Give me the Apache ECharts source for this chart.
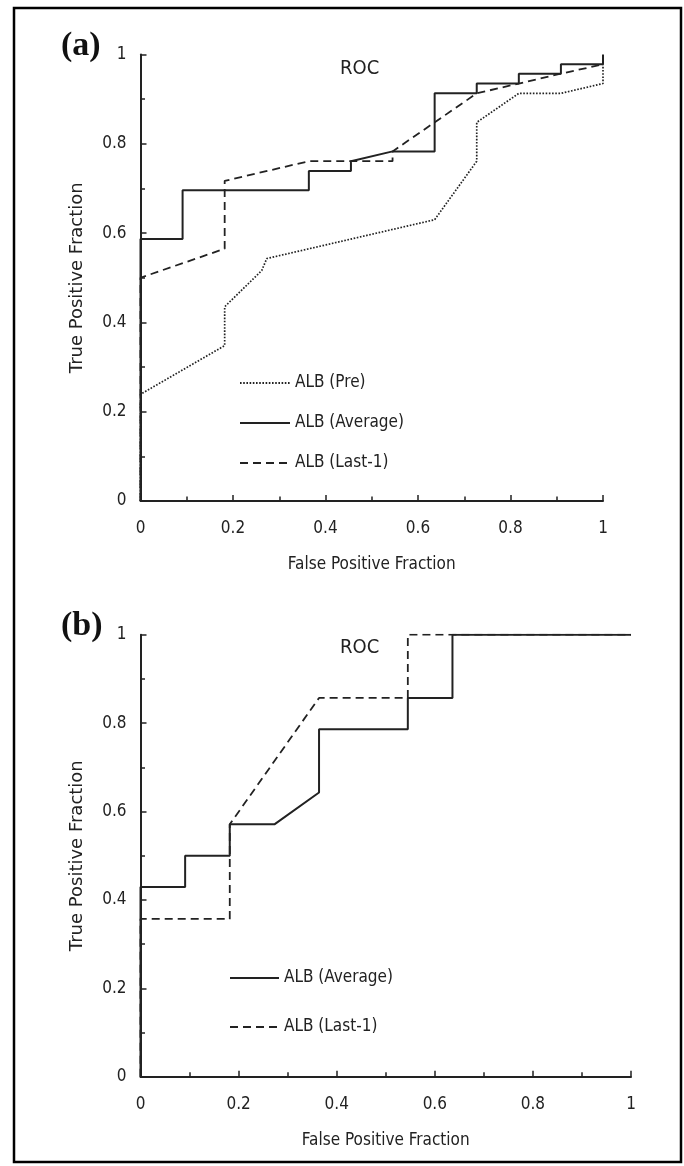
<!doctype html>
<html>
<head>
<meta charset="utf-8">
<title>ROC</title>
<script src="https://cdn.jsdelivr.net/npm/echarts@6/dist/echarts.min.js"></script>
<style>
    html, body {margin: 0;padding: 0;background: #fff;}
    #chart {width: 684px;height: 1166px;}
</style>
</head>
<body>
<div id="chart"></div>
<script>
    // (a) ALB (Pre) - dotted
    var fprA_pre = [0, 0, 0.182, 0.182, 0.262, 0.273, 0.636, 0.727, 0.727, 0.818, 0.909, 1, 1];
    var tprA_pre = [0, 0.239, 0.348, 0.435, 0.516, 0.543, 0.630, 0.761, 0.848, 0.913, 0.913, 0.935, 0.978];
    // (a) ALB (Average) - solid
    var fprA_avg = [0, 0, 0.091, 0.091, 0.364, 0.364, 0.455, 0.455, 0.545, 0.636, 0.636, 0.727, 0.727, 0.818, 0.818, 0.909, 0.909, 1, 1];
    var tprA_avg = [0, 0.587, 0.587, 0.696, 0.696, 0.739, 0.739, 0.761, 0.783, 0.783, 0.913, 0.913, 0.935, 0.935, 0.957, 0.957, 0.978, 0.978, 1];
    // (a) ALB (Last-1) - dashed
    var fprA_last = [0, 0, 0.182, 0.182, 0.364, 0.545, 0.545, 0.727, 0.818, 0.909, 1];
    var tprA_last = [0, 0.5, 0.565, 0.717, 0.761, 0.761, 0.783, 0.913, 0.935, 0.957, 0.978];

    // (b) ALB (Average) - solid
    var fprB_avg = [0, 0, 0.091, 0.091, 0.182, 0.182, 0.273, 0.364, 0.364, 0.545, 0.545, 0.636, 0.636, 1];
    var tprB_avg = [0, 0.429, 0.429, 0.5, 0.5, 0.571, 0.571, 0.643, 0.786, 0.786, 0.857, 0.857, 1, 1];
    // (b) ALB (Last-1) - dashed
    var fprB_last = [0, 0, 0.182, 0.182, 0.364, 0.545, 0.545, 1];
    var tprB_last = [0, 0.357, 0.357, 0.571, 0.857, 0.857, 1, 1];

    var axisTicks = [0, 0.2, 0.4, 0.6, 0.8, 1];

    var ink = '#222';
    var sans = "'DejaVu Sans Condensed', 'DejaVu Sans', sans-serif";

    function pairs(xs, ys) {
        var out = [];
        for (var i = 0; i < xs.length; i++) {
            out.push([xs[i], ys[i]]);
        }
        return out;
    }

    function valueAxis(idx, name, isY) {
        return {
            type: 'value',
            gridIndex: idx,
            min: axisTicks[0],
            max: axisTicks[axisTicks.length - 1],
            interval: axisTicks[1] - axisTicks[0],
            name: name,
            nameLocation: 'middle',
            nameGap: isY ? 54 : 55,
            nameTextStyle: {
                color: ink,
                fontFamily: isY ? "'DejaVu Sans', sans-serif" : sans,
                fontSize: isY ? 18 : 17
            },
            axisLine: {show: true, onZero: false, lineStyle: {color: ink, width: 2}},
            axisTick: {show: true, inside: true, length: 6, lineStyle: {color: ink, width: 1.5}},
            minorTick: {show: true, splitNumber: 2, length: 4.5, lineStyle: {color: ink, width: 1.5}},
            splitLine: {show: false},
            axisLabel: {
                color: ink,
                fontFamily: sans,
                fontSize: 17,
                margin: isY ? 14 : 19
            }
        };
    }

    function line(name, idx, xs, ys, type, width) {
        return {
            name: name,
            type: 'line',
            xAxisIndex: idx,
            yAxisIndex: idx,
            symbol: 'none',
            data: pairs(xs, ys),
            lineStyle: {color: ink, width: width, type: type},
            itemStyle: {color: ink},
            z: 3
        };
    }

    var myChart = echarts.init(document.getElementById('chart'), null, {renderer: 'canvas'});

    var option = {
        animation: false,
        backgroundColor: '#fff',
        title: [
            {text: '(a)', left: 61, top: 29, padding: 0,
                textStyle: {fontFamily: "'Liberation Serif', serif", fontWeight: 'bold', fontSize: 34, color: '#111'}},
            {text: 'ROC', left: 340, top: 59, padding: 0,
                textStyle: {fontFamily: sans, fontWeight: 'normal', fontSize: 20, color: ink}},
            {text: '(b)', left: 61, top: 609, padding: 0,
                textStyle: {fontFamily: "'Liberation Serif', serif", fontWeight: 'bold', fontSize: 34, color: '#111'}},
            {text: 'ROC', left: 340, top: 638, padding: 0,
                textStyle: {fontFamily: sans, fontWeight: 'normal', fontSize: 20, color: ink}}
        ],
        graphic: [{
            type: 'rect',
            shape: {x: 14, y: 8, width: 667, height: 1154},
            style: {fill: 'none', stroke: '#000', lineWidth: 2.5},
            silent: true
        }],
        legend: [
            {
                orient: 'vertical', left: 239, top: 374.5, padding: 0,
                itemWidth: 50, itemHeight: 14, itemGap: 23,
                itemStyle: {opacity: 0},
                data: ['ALB (Pre)', 'ALB (Average)', 'ALB (Last-1)'],
                textStyle: {color: ink, fontFamily: sans, fontSize: 17}
            },
            {
                orient: 'vertical', left: 229, top: 969.5, padding: 0,
                itemWidth: 49, itemHeight: 14, itemGap: 32,
                itemStyle: {opacity: 0},
                data: ['ALB (Average)', 'ALB (Last-1)'],
                textStyle: {color: ink, fontFamily: sans, fontSize: 17}
            }
        ],
        grid: [
            {left: 140.5, top: 54.5, width: 462.5, height: 446.5},
            {left: 140.5, top: 634.7, width: 490.5, height: 442}
        ],
        xAxis: [
            valueAxis(0, 'False Positive Fraction', false),
            valueAxis(1, 'False Positive Fraction', false)
        ],
        yAxis: [
            valueAxis(0, 'True Positive Fraction', true),
            valueAxis(1, 'True Positive Fraction', true)
        ],
        series: [
            line('ALB (Pre)', 0, fprA_pre, tprA_pre, [1.6, 1.6], 1.7),
            line('ALB (Average)', 0, fprA_avg, tprA_avg, 'solid', 2),
            line('ALB (Last-1)', 0, fprA_last, tprA_last, [8, 5], 1.8),
            line('ALB (Average)', 1, fprB_avg, tprB_avg, 'solid', 2),
            line('ALB (Last-1)', 1, fprB_last, tprB_last, [8, 5], 1.8)
        ]
    };

    myChart.setOption(option);
</script>
</body>
</html>
